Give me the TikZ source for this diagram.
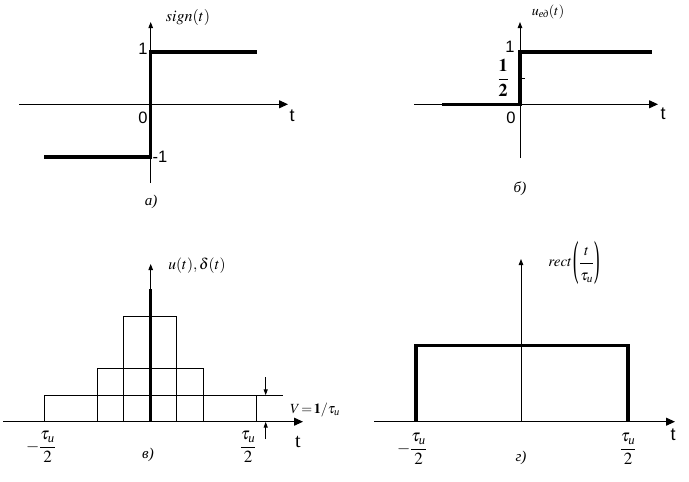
\documentclass[tikz,border=0pt]{standalone}
\usepackage{amsmath}
\usepackage{mathptmx}
\usepackage{graphicx}
\usepackage{fontspec}
\setmainfont{Liberation Serif}
\newfontfamily\sansf{Liberation Sans}
\usetikzlibrary{arrows.meta}
\newcommand{\fs}[1]{\fontsize{#1}{#1}\selectfont}
\newcommand{\tallparen}[1]{\vcenter{\hbox{\scalebox{1.1}[3.2]{#1}}}}
\tikzset{
  axis/.style={line width=1pt,-{Triangle[length=9pt,width=8pt]}},
  vaxis/.style={line width=1pt,-{Triangle[length=6pt,width=4.5pt]}},
  sig/.style={line width=3.3pt,line join=miter},
  thin/.style={line width=1pt},
  marr/.style={line width=1pt,-{Triangle[length=6pt,width=4pt]}},
  slbl/.style={font=\fs{16.5}\sansf,inner sep=0pt},
  tlbl/.style={font=\fs{18}\sansf,inner sep=0pt},
  mlbl/.style={font=\fs{15}\selectfont,inner sep=0pt},
  flbl/.style={font=\fs{17},inner sep=0pt},
  clbl/.style={font=\fs{15}\itshape,inner sep=0pt}
}
\begin{document}
\begin{tikzpicture}[x=1pt,y=-1pt]
\useasboundingbox (0,0) rectangle (689,482);
% ---------- panel a ----------
\coordinate (aL) at (19,104.3);
\coordinate (aR) at (288,104.3);
\coordinate (aB) at (150.7,183);
\coordinate (aT) at (150.7,22);
\draw[axis] (aL) -- (aR);
\draw[vaxis] (aB) -- (aT);
\draw[sig] (44,157) -- (150.7,157) -- (150.7,52) -- (257,52);
\node[mlbl,font=\fs{16}] (asig) at (188,17) {$sign(t)$};
\node[slbl] (a1) at (143,49) {1};
\node[slbl] (a0) at (143,118) {0};
\node[slbl] (am1) at (160,157) {-1};
\node[tlbl] (at) at (292,116) {t};
\node[clbl] (acap) at (151,202) {а)};
% ---------- panel b ----------
\coordinate (bL) at (414,104.3);
\coordinate (bR) at (658,104.3);
\coordinate (bB) at (520,158);
\coordinate (bT) at (520,22);
\draw[axis] (bL) -- (bR);
\draw[vaxis] (bB) -- (bT);
\draw[sig] (442,104.3) -- (520,104.3) -- (520,52) -- (652,52);
\draw[thin] (520,78) -- (524.5,78);
\node[mlbl,font=\fs{14}] (bu) at (548,12) {$u_{\text{\itshape ед}}(t)$};
\node[slbl] (b1) at (510,47) {1};
\node[flbl,font=\fs{18}] (bh) at (503,78) {$\displaystyle\frac{\mathbf{1}}{\mathbf{2}}$};
\node[slbl] (b0) at (511,118) {0};
\node[tlbl] (bt) at (663,114) {t};
\node[clbl] (bcap) at (520,189) {б)};
% ---------- panel c ----------
\coordinate (cL) at (3,421.7);
\coordinate (cR) at (303,421.7);
\coordinate (cB) at (150.7,421.7);
\coordinate (cT) at (150.7,264);
\draw[thin] (44,421.7) rectangle (256,395.3);
\draw[thin] (97,421.7) rectangle (203,368.3);
\draw[thin] (123,421.7) rectangle (176,316.7);
\draw[thin] (256,395.3) -- (283,395.3);
\draw[axis] (cL) -- (cR);
\draw[vaxis] (cB) -- (cT);
\draw[line width=3.3pt] (150.7,421.7) -- (150.7,289);
\coordinate (cA1) at (265.7,377);
\coordinate (cA2) at (265.7,395.3);
\coordinate (cA3) at (265.7,439);
\coordinate (cA4) at (265.7,421.7);
\draw[marr] (cA1) -- (cA2);
\draw[marr] (cA3) -- (cA4);
\node[mlbl,font=\fs{15.5}] (cu) at (197,266) {$u(t),\delta(t)$};
\node[mlbl,font=\fs{14}] (cV) at (315,410) {$V\!=\!\mathbf{1}/\tau_{\text{\itshape и}}$};
\node[flbl] (cm) at (41,447) {$-\displaystyle\frac{\tau_{\text{\itshape и}}}{2}$};
\node[flbl] (cp) at (248,447) {$\displaystyle\frac{\tau_{\text{\itshape и}}}{2}$};
\node[font=\fs{20},inner sep=0pt] (ct) at (298,442) {t};
\node[clbl] (ccap) at (148,455) {в)};
% ---------- panel d ----------
\coordinate (dL) at (374,421.7);
\coordinate (dR) at (675,421.7);
\coordinate (dB) at (521,421.7);
\coordinate (dT) at (521,259);
\draw[axis] (dL) -- (dR);
\draw[vaxis] (dB) -- (dT);
\draw[sig] (416,421.7) -- (416,345.3) -- (628,345.3) -- (628,421.7);
\node[mlbl,font=\fs{15}] (dr) at (574,263) {$rect\,\tallparen{(}\displaystyle\frac{t\rule[-5pt]{0pt}{5pt}}{\tau_{\text{\itshape и}}\rule{0pt}{15pt}}\tallparen{)}$};
\node[flbl] (dm) at (412,449) {$-\displaystyle\frac{\tau_{\text{\itshape и}}}{2}$};
\node[flbl] (dp) at (628,449) {$\displaystyle\frac{\tau_{\text{\itshape и}}}{2}$};
\node[tlbl] (dt) at (673,435) {t};
\node[clbl] (dcap) at (521,458) {г)};
\end{tikzpicture}
\end{document}
